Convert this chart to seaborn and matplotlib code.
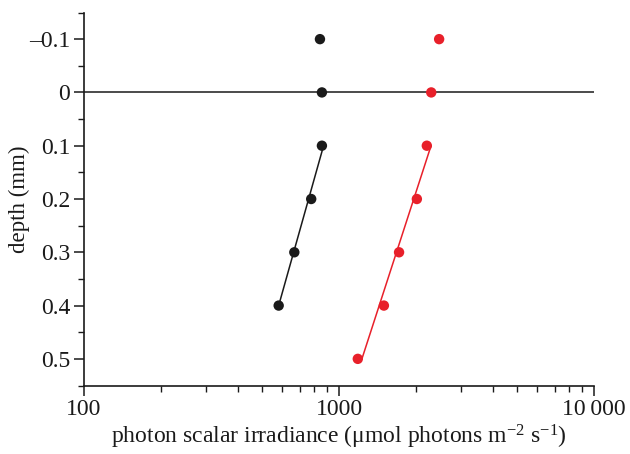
import matplotlib
matplotlib.use("Agg")
import matplotlib.pyplot as plt
import matplotlib.ticker as mticker
import seaborn as sns

# data
black_depth = [-0.1, 0.0, 0.1, 0.2, 0.3, 0.4]
black_irr = [842, 857, 857, 778, 668, 580]
red_depth = [-0.1, 0.0, 0.1, 0.2, 0.3, 0.4, 0.5]
red_irr = [2470, 2300, 2210, 2020, 1720, 1500, 1185]
black_fit_depth = [0.1, 0.4]
black_fit_irr = [870, 580]
red_fit_depth = [0.1, 0.5]
red_fit_irr = [2296, 1230]
surface_x = [100, 10000]
surface_y = [0, 0]
xtick_vals = [100, 1000, 10000]
xtick_labels = ["100", "1000", "10\u2009000"]
ytick_vals = [-0.1, 0.0, 0.1, 0.2, 0.3, 0.4, 0.5]
ytick_labels = ["\u20130.1", "0", "0.1", "0.2", "0.3", "0.4", "0.5"]

sns.set_style("ticks")
plt.rcParams["font.family"] = ["Liberation Serif", "DejaVu Serif"]
plt.rcParams["mathtext.fontset"] = "custom"
plt.rcParams["mathtext.rm"] = "Liberation Serif"
plt.rcParams["mathtext.it"] = "Liberation Serif:italic"

BLACK = "#1a1a1a"
RED = "#e8202a"

fig = plt.figure(figsize=(6.3, 4.54), dpi=100)
ax = fig.add_axes([84 / 630, 1 - 385.5 / 454, (594 - 84) / 630, (385.5 - 12.5) / 454])

ax.plot(surface_x, surface_y, color=BLACK, lw=1.1, zorder=1)
sns.lineplot(x=black_fit_irr, y=black_fit_depth, color=BLACK, lw=1.1, ax=ax, sort=False, estimator=None)
sns.lineplot(x=red_fit_irr, y=red_fit_depth, color=RED, lw=1.1, ax=ax, sort=False, estimator=None)
sns.scatterplot(x=black_irr, y=black_depth, color=BLACK, s=56, edgecolor="none", ax=ax, zorder=3)
sns.scatterplot(x=red_irr, y=red_depth, color=RED, s=56, edgecolor="none", ax=ax, zorder=3)

ax.set_xscale("log")
ax.set_xlim(100, 10000)
ax.set_ylim(0.55, -0.15)

ax.set_xticks(xtick_vals)
ax.set_xticklabels(xtick_labels)
ax.xaxis.set_minor_locator(mticker.LogLocator(base=10, subs=range(2, 10)))
ax.xaxis.set_minor_formatter(mticker.NullFormatter())
ax.set_yticks(ytick_vals)
ax.set_yticklabels(ytick_labels)
ax.yaxis.set_minor_locator(mticker.MultipleLocator(0.05))

for s in ["top", "right"]:
    ax.spines[s].set_visible(False)
for s in ["left", "bottom"]:
    ax.spines[s].set_linewidth(1.2)
    ax.spines[s].set_color(BLACK)

ax.tick_params(axis="both", which="major", direction="out", length=7, width=1.1,
               labelsize=17, colors=BLACK, pad=3)
ax.tick_params(axis="both", which="minor", direction="out", length=4, width=1.0, colors=BLACK)

ax.set_xlabel("photon scalar irradiance (\u03bcmol photons m$^{\u22122}$ s$^{\u22121}$)", fontsize=17, color=BLACK, labelpad=2)
ax.set_ylabel("depth (mm)", fontsize=16.5, color=BLACK, labelpad=-1)

fig.savefig("out.png", dpi=100)
